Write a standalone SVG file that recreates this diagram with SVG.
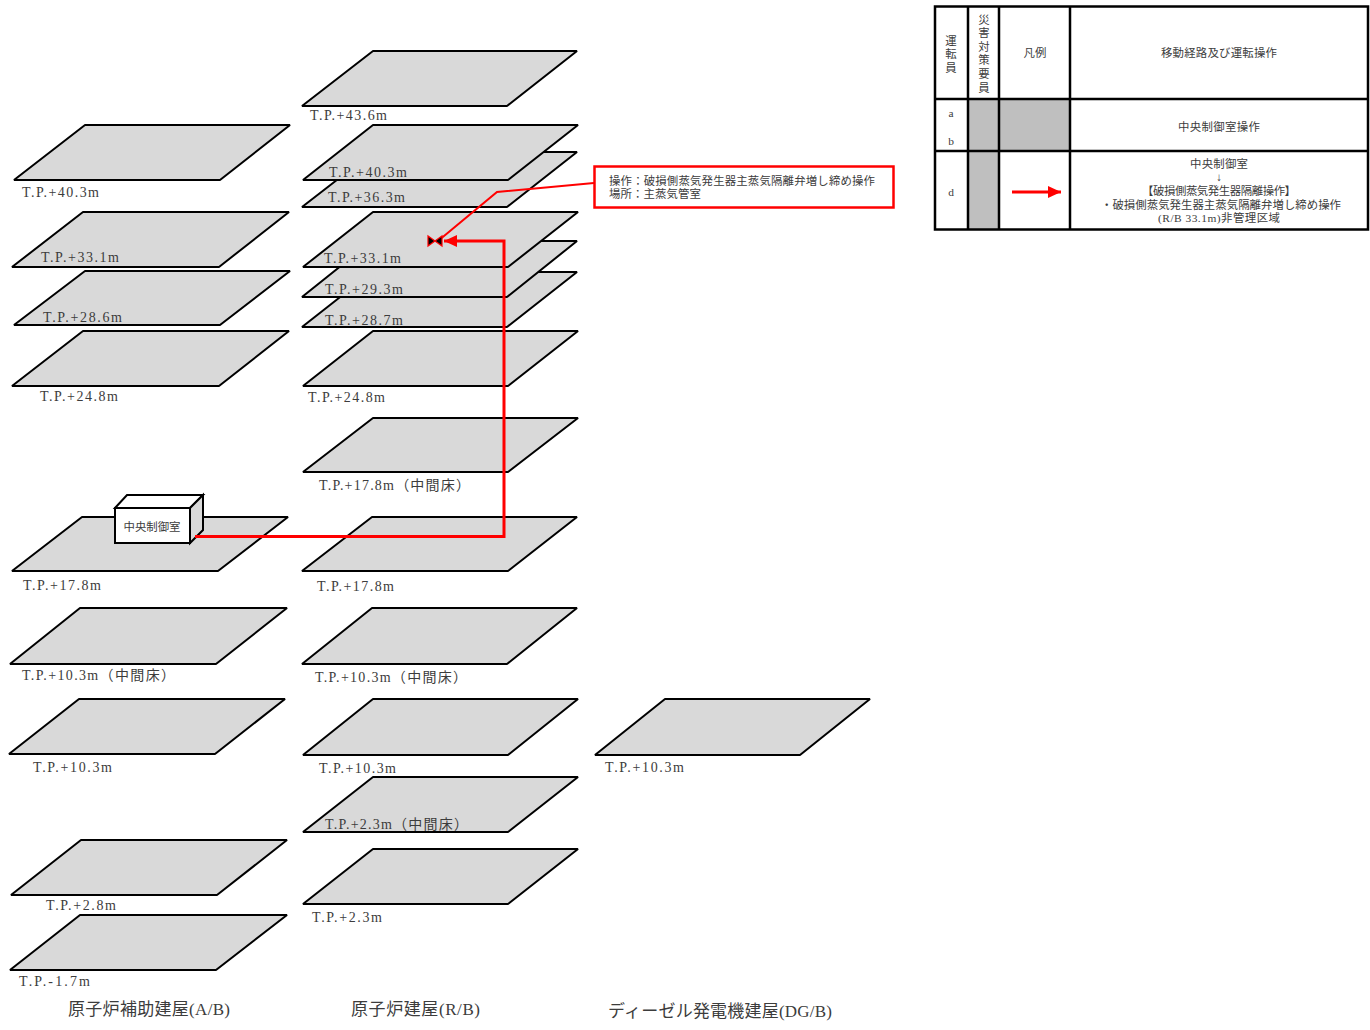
<svg xmlns="http://www.w3.org/2000/svg" width="1370" height="1030" viewBox="0 0 1370 1030">
<style>
text{font-family:"Liberation Serif","Noto Sans CJK JP",serif;fill:#3c3c3c}
.p{fill:#d9d9d9;stroke:#000;stroke-width:2;stroke-linejoin:bevel}
.l{font-size:14px}
.t{font-size:17px}
.s{font-size:11.4px}
.m{text-anchor:middle}
.tb{fill:none;stroke:#000;stroke-width:2.5}
.g{fill:#bfbfbf}
.r{fill:none;stroke:#f00;stroke-width:3}
.r2{fill:none;stroke:#f00;stroke-width:2}
</style>
<defs>
<marker id="ah" markerUnits="userSpaceOnUse" markerWidth="14" markerHeight="12" refX="13" refY="6" orient="auto"><path d="M0 0L13 6L0 12Z" fill="#f00"/></marker>
</defs>
<rect width="1370" height="1030" fill="#fff"/>

<g id="ab-p403"><polygon class="p" points="14,180 85,125 290,125 220,180"/><text class="l" x="22" y="197" textLength="77">T.P.+40.3m</text></g>
<g id="ab-p331"><polygon class="p" points="12,267 83,212 289,212 219,267"/><text class="l" x="41" y="262" textLength="78">T.P.+33.1m</text></g>
<g id="ab-p286"><polygon class="p" points="14,325 85,271 290,271 220,325"/><text class="l" x="43" y="322" textLength="79">T.P.+28.6m</text></g>
<g id="ab-p248"><polygon class="p" points="12,386 83,331 289,331 219,386"/><text class="l" x="40" y="401" textLength="78">T.P.+24.8m</text></g>
<g id="ab-p178"><polygon class="p" points="12,571 82,517 288,517 218,571"/><text class="l" x="23" y="590" textLength="78">T.P.+17.8m</text></g>
<g id="ab-p103m"><polygon class="p" points="10,664 80,608 287,608 216,664"/><text class="l" x="22" y="680" textLength="153">T.P.+10.3m（中間床）</text></g>
<g id="ab-p103"><polygon class="p" points="9,754 79,699 285,699 215,754"/><text class="l" x="33" y="772" textLength="79">T.P.+10.3m</text></g>
<g id="ab-p28"><polygon class="p" points="11,895 81,840 287,840 217,895"/><text class="l" x="46" y="910" textLength="70">T.P.+2.8m</text></g>
<g id="ab-m17"><polygon class="p" points="10,970 80,915 287,915 216,970"/><text class="l" x="19" y="986" textLength="71">T.P.-1.7m</text></g>

<g id="rb-p436"><polygon class="p" points="302,106 373,51 577,51 507,106"/><text class="l" x="310" y="120" textLength="77">T.P.+43.6m</text></g>
<g id="rb-p363"><polygon class="p" points="302,207 373,152 577,152 507,207"/></g>
<g id="rb-p403"><polygon class="p" points="303,180 373,125 578,125 508,180"/></g>
<text class="l" x="329" y="177" textLength="78">T.P.+40.3m</text>
<text class="l" x="328" y="202" textLength="77">T.P.+36.3m</text>
<g id="rb-p287"><polygon class="p" points="302,327 372,272 577,272 507,327"/></g>
<g id="rb-p293"><polygon class="p" points="302,297 372,241 577,241 507,297"/></g>
<g id="rb-p331"><polygon class="p" points="303,267 373,212 578,212 508,267"/></g>
<text class="l" x="324" y="263" textLength="77">T.P.+33.1m</text>
<text class="l" x="325" y="294" textLength="78">T.P.+29.3m</text>
<text class="l" x="325" y="325" textLength="78">T.P.+28.7m</text>
<g id="rb-p248"><polygon class="p" points="303,386 373,331 578,331 508,386"/><text class="l" x="308" y="402" textLength="77">T.P.+24.8m</text></g>
<g id="rb-p178m"><polygon class="p" points="303,472 373,418 578,418 508,472"/><text class="l" x="319" y="490" textLength="151">T.P.+17.8m（中間床）</text></g>
<g id="rb-p178"><polygon class="p" points="302,571 372,517 577,517 508,571"/><text class="l" x="317" y="591" textLength="77">T.P.+17.8m</text></g>
<g id="rb-p103m"><polygon class="p" points="302,664 372,608 577,608 507,664"/><text class="l" x="315" y="682" textLength="152">T.P.+10.3m（中間床）</text></g>
<g id="rb-p103"><polygon class="p" points="303,755 373,699 578,699 508,755"/><text class="l" x="319" y="773" textLength="77">T.P.+10.3m</text></g>
<g id="rb-p23m"><polygon class="p" points="303,832 373,777 578,777 508,832"/><text class="l" x="325" y="829" textLength="143">T.P.+2.3m（中間床）</text></g>
<g id="rb-p23"><polygon class="p" points="303,904 373,849 578,849 508,904"/><text class="l" x="312" y="922" textLength="70">T.P.+2.3m</text></g>

<g id="dg-p103"><polygon class="p" points="595,755 665,699 870,699 800,755"/><text class="l" x="605" y="772" textLength="79">T.P.+10.3m</text></g>

<g id="control-room">
<polygon points="115,508 127,495 203,495 190,508" fill="#fff" stroke="#000" stroke-width="2"/>
<polygon points="190,508 203,495 203,530 190,543" fill="#d9d9d9" stroke="#000" stroke-width="2"/>
<rect x="115" y="508" width="75" height="35" fill="#fff" stroke="#000" stroke-width="2"/>
<text class="s m" x="152" y="531">中央制御室</text>
</g>

<g id="connectors">
<polyline class="r" points="195,536.5 504,536.5 504,241 444,241" marker-end="url(#ah)"/>
<polyline class="r2" points="594,183 497,192 438,241"/>
</g>

<g id="valve">
<polygon points="428,236 428,246 435,241" fill="#000" stroke="#f00" stroke-width="1.2"/>
<polygon points="442,236 442,246 435,241" fill="#000" stroke="#f00" stroke-width="1.2"/>
</g>

<g id="callout">
<rect x="594.500" y="166.500" width="299" height="41" fill="#fff" stroke="#f00" stroke-width="2.500"/>
<text class="s" x="609" y="185" textLength="266">操作：破損側蒸気発生器主蒸気隔離弁増し締め操作</text>
<text class="s" x="609" y="198" textLength="92">場所：主蒸気管室</text>
</g>

<g id="legend">
<rect class="g" x="968" y="99" width="31" height="131"/>
<rect class="g" x="999" y="99" width="71" height="52"/>
<rect class="tb" x="935" y="6.500" width="433" height="223"/>
<path class="tb" d="M968 6V230M999 6V230M1070 6V230M935 99H1368M935 151H1368"/>
<text class="s m" x="951" y="45">運</text><text class="s m" x="951" y="58">転</text><text class="s m" x="951" y="72">員</text>
<text class="s m" x="984" y="24">災</text><text class="s m" x="984" y="37">害</text><text class="s m" x="984" y="51">対</text><text class="s m" x="984" y="64">策</text><text class="s m" x="984" y="78">要</text><text class="s m" x="984" y="92">員</text>
<text class="s m" x="1035" y="57">凡例</text>
<text class="s m" x="1219" y="57" textLength="116">移動経路及び運転操作</text>
<text class="s m" x="951" y="117">a</text><text class="s m" x="951" y="145">b</text><text class="s m" x="951" y="196">d</text>
<text class="s m" x="1219" y="131" textLength="82">中央制御室操作</text>
<text class="s m" x="1219" y="168" textLength="58">中央制御室</text>
<text class="s m" x="1219" y="181">↓</text>
<text class="s m" x="1219" y="195" textLength="154">【破損側蒸気発生器隔離操作】</text>
<text class="s m" x="1221" y="209" textLength="240">・破損側蒸気発生器主蒸気隔離弁増し締め操作</text>
<text class="s m" x="1219" y="222" textLength="122">(R/B 33.1m)非管理区域</text>
<line x1="1012" y1="192" x2="1061" y2="192" stroke="#f00" stroke-width="3" marker-end="url(#ah)"/>
</g>

<text class="t" x="68" y="1015" textLength="162">原子炉補助建屋(A/B)</text>
<text class="t" x="351" y="1015" textLength="129">原子炉建屋(R/B)</text>
<text class="t" x="608" y="1017" textLength="224">ディーゼル発電機建屋(DG/B)</text>
</svg>
